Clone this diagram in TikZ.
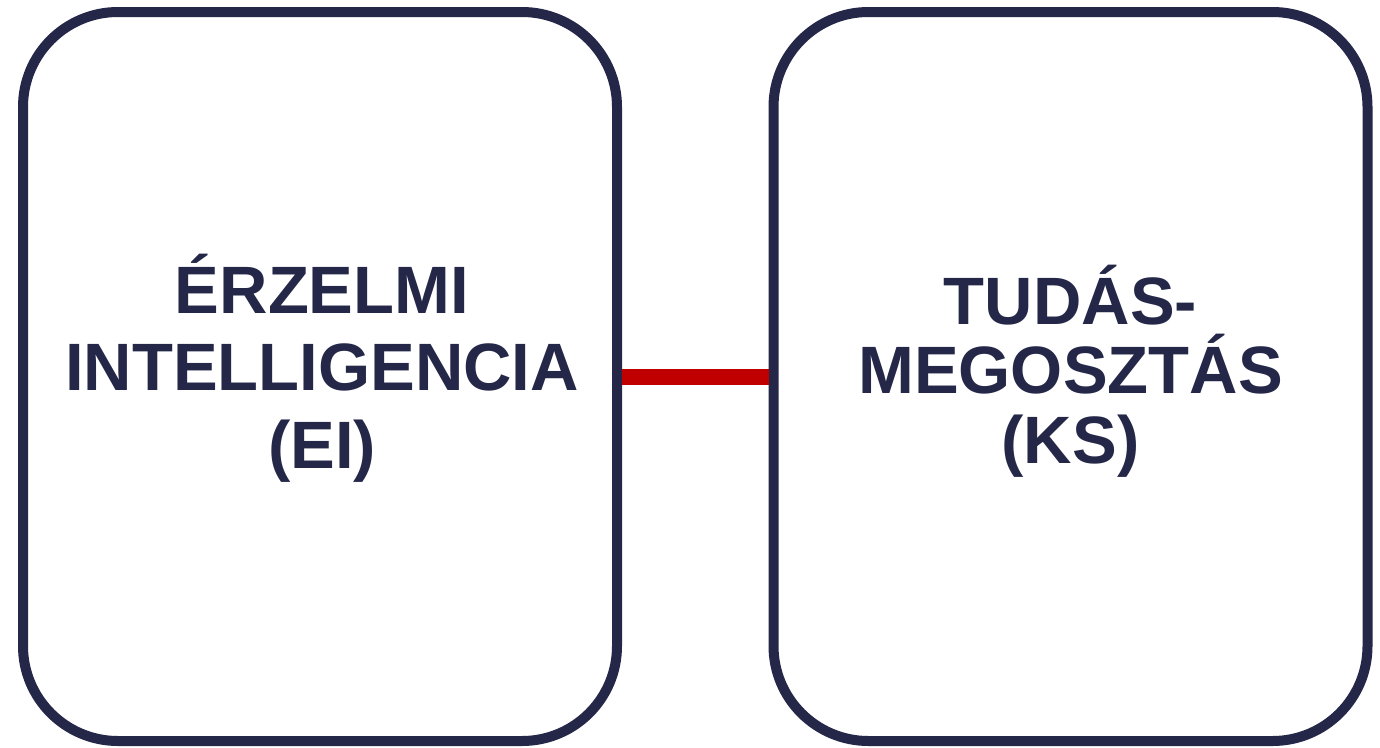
\documentclass[tikz,border=0pt]{standalone}
\usepackage{fontspec}
\setmainfont{Liberation Sans}
\definecolor{navy}{RGB}{36,39,71}
\definecolor{linkred}{RGB}{192,0,0}
\begin{document}
\begin{tikzpicture}[x=1pt,y=-1pt,
  bigbox/.style={draw=navy, line width=10pt, rounded corners=95pt, fill=white,
    minimum width=594pt, minimum height=729pt, inner sep=0pt},
  boxtext/.style={text=navy, align=center, inner sep=0pt, font=\bfseries\fontsize{67}{#1}\selectfont},
  link/.style={draw=linkred, line width=16pt}]
\useasboundingbox (0,0) rectangle (1380,747);
\node[bigbox] (ei) at (320,376.5) {};
\node[bigbox] (ks) at (1070.5,376.5) {};
\node[boxtext=77.5] (eitext) at (322,368) {ÉRZELMI\\INTELLIGENCIA\\(EI)};
\node[boxtext=69.5] (kstext) at (1070.5,371) {TUDÁS-\\MEGOSZTÁS\\(KS)};
\draw[link] (ei.east) -- (ks.west);
\end{tikzpicture}
\end{document}
